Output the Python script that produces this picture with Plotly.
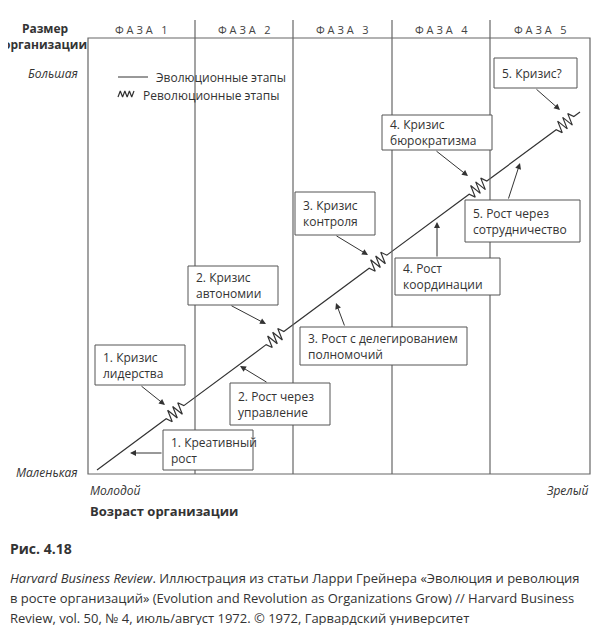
import numpy as np
import plotly.graph_objects as go

F = "Open Sans"
GREY = "#333333"

# %% data
phases = ["ФАЗА 1", "ФАЗА 2", "ФАЗА 3", "ФАЗА 4", "ФАЗА 5"]
dividers = [88, 195, 293, 392, 490, 590]
line_start = (97, 470)
line_end = (580, 112)
zig_x = [175, 275, 378, 478, 565]

crisis_text = ["1. Кризис<br>лидерства", "2. Кризис<br>автономии", "3. Кризис<br>контроля",
               "4. Кризис<br>бюрократизма", "5. Кризис?"]
crisis_box = [(95, 345, 185, 385), (188, 266, 278, 305), (295, 192, 375, 235),
              (382, 115, 492, 150), (494, 58, 577, 88)]
crisis_arrow = [(140, 385, 165, 405), (230, 305, 266, 324), (335, 235, 368, 255),
                (435, 150, 468, 176), (535, 88, 560, 110)]

growth_text = ["1. Креативный<br>рост", "2. Рост через<br>управление",
               "3. Рост с делегированием<br>полномочий", "4. Рост<br>координации",
               "5. Рост через<br>сотрудничество"]
growth_box = [(163, 430, 253, 470), (230, 383, 330, 425), (300, 327, 467, 365),
              (395, 258, 500, 295), (465, 200, 580, 242)]
growth_arrow = [(163, 453, 130, 453), (268, 383, 240, 366), (345, 327, 336, 303),
                (437, 258, 437, 222), (508, 200, 520, 163)]

caption = ["<i>Harvard Business Review</i>. Иллюстрация из статьи Ларри Грейнера «Эволюция и революция",
           "в росте организаций» (Evolution and Revolution as Organizations Grow) // Harvard Business",
           "Review, vol. 50, № 4, июль/август 1972. © 1972, Гарвардский университет"]

# %% line with zigzags
x0, y0 = line_start
x1, y1 = line_end
slope = (y1 - y0) / (x1 - x0)
d = np.array([1, slope]) / np.hypot(1, slope)
n = np.array([-d[1], d[0]])
xs, ys = [x0], [y0]
for zx in zig_x:
    c = np.array([zx, y0 + slope * (zx - x0)])
    for i, t in enumerate(np.linspace(-11, 11, 8)):
        off = 0 if i in (0, 7) else (6 if i % 2 else -6)
        p = c + d * t + n * off
        xs.append(p[0]); ys.append(p[1])
xs.append(x1); ys.append(y1)

fig = go.Figure()
fig.add_trace(go.Scatter(x=xs, y=ys, mode="lines", line=dict(color=GREY, width=1.2),
                         hoverinfo="skip"))
# legend sample
fig.add_trace(go.Scatter(x=[118, 148], y=[77, 77], mode="lines",
                         line=dict(color=GREY, width=1), hoverinfo="skip"))
lx = np.linspace(118, 134, 8)
ly = [97, 91, 97, 91, 97, 91, 97, 91]
fig.add_trace(go.Scatter(x=lx, y=ly, mode="lines", line=dict(color=GREY, width=1.2),
                         hoverinfo="skip"))

shapes = []
line = dict(color="#666666", width=1.2)
shapes.append(dict(type="rect", x0=dividers[0], x1=dividers[-1], y0=38, y1=474, line=line))
for x in dividers[1:-1]:
    shapes.append(dict(type="line", x0=x, x1=x, y0=20, y1=474, line=line))
shapes.append(dict(type="line", x0=598, x1=598, y0=8, y1=510, line=dict(color="#666", width=1)))

ann = []
for i, p in enumerate(phases):
    ann.append(dict(x=(dividers[i] + dividers[i + 1]) / 2, y=29,
                    text=" ".join(p), showarrow=False,
                    font=dict(size=11, color="#444")))
for text, box, arr in zip(crisis_text + growth_text, crisis_box + growth_box, crisis_arrow + growth_arrow):
    shapes.append(dict(type="rect", x0=box[0], y0=box[1], x1=box[2], y1=box[3],
                       line=dict(color="#555", width=1), fillcolor="white"))
    ann.append(dict(x=box[0] + 6, y=(box[1] + box[3]) / 2, text=text, showarrow=False,
                    xanchor="left", align="left", font=dict(size=12, color=GREY)))
    ann.append(dict(x=arr[2], y=arr[3], ax=arr[0], ay=arr[1], xref="x", yref="y",
                    axref="x", ayref="y", text="", showarrow=True, arrowhead=2,
                    arrowsize=1.2, arrowwidth=1, arrowcolor=GREY))

ann += [
    dict(x=154, y=77, text="Эволюционные этапы", xanchor="left"),
    dict(x=141, y=95, text="Революционные этапы", xanchor="left"),
    dict(x=45, y=36, text="<b>Размер<br>организации</b>", xanchor="center", align="center"),
    dict(x=80, y=73, text="<i>Большая</i>", xanchor="right"),
    dict(x=80, y=472, text="<i>Маленькая</i>", xanchor="right"),
    dict(x=88, y=490, text="<i>Молодой</i>", xanchor="left"),
    dict(x=590, y=490, text="<i>Зрелый</i>", xanchor="right"),
    dict(x=88, y=511, text="<b>Возраст организации</b>", xanchor="left", font=dict(size=13, color=GREY)),
    dict(x=8, y=548, text="<b>Рис. 4.18</b>", xanchor="left", font=dict(size=14, color=GREY)),
]
for i, c in enumerate(caption):
    ann.append(dict(x=8, y=578 + 20 * i, text=c, xanchor="left", font=dict(size=13, color=GREY)))
for a in ann:
    a.setdefault("showarrow", False)
    a.setdefault("font", dict(size=12, color=GREY))
    a.setdefault("xref", "x")
    a.setdefault("yref", "y")

# page body has an 8px margin, so the figure is 8px smaller and the axes start at 8
fig.update_layout(
    width=592, height=617, margin=dict(l=0, r=0, t=0, b=0),
    plot_bgcolor="white", paper_bgcolor="white", showlegend=False,
    font=dict(family=F, color=GREY),
    xaxis=dict(range=[8, 600], visible=False, fixedrange=True),
    yaxis=dict(range=[625, 8], visible=False, fixedrange=True),
    shapes=shapes, annotations=ann,
)
fig.write_html("out.html")
